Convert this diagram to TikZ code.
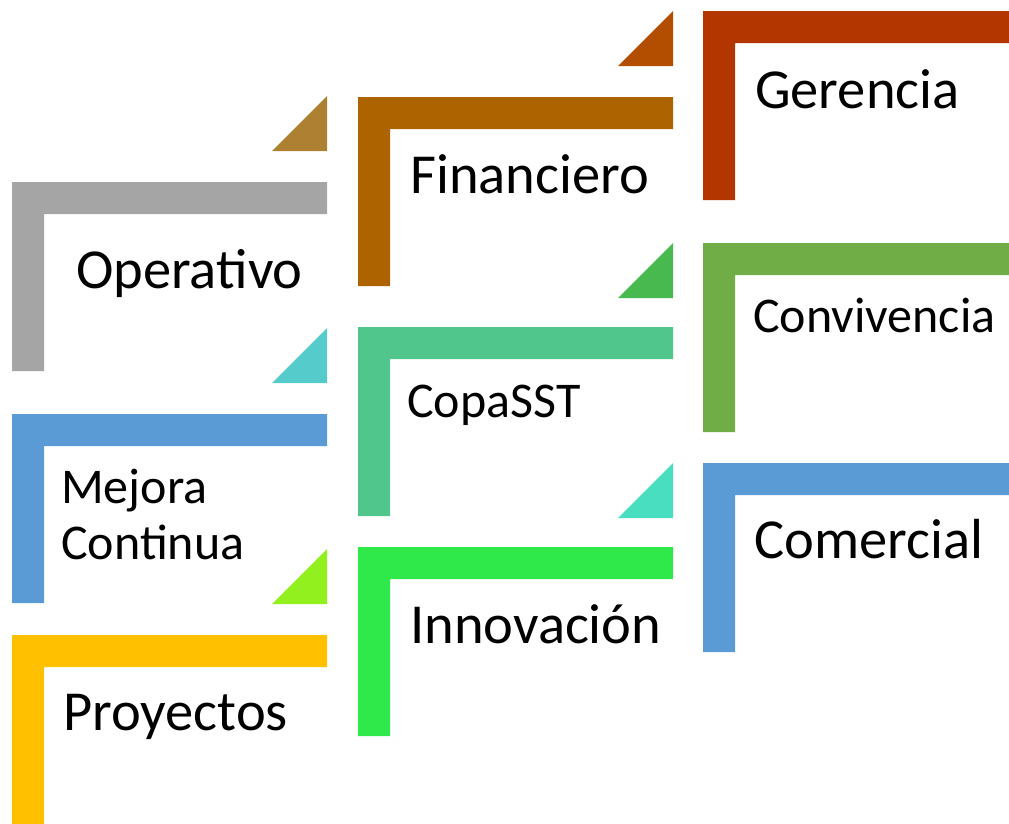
\documentclass[tikz,border=0pt]{standalone}
\usepackage{fontspec}
\setmainfont{Carlito}
\usepackage{xcolor}

\definecolor{opgray}{HTML}{A5A5A5}
\definecolor{mejblue}{HTML}{5B9BD5}
\definecolor{proyellow}{HTML}{FFC000}
\definecolor{finbrown}{HTML}{AD6300}
\definecolor{copagreen}{HTML}{50C58C}
\definecolor{innogreen}{HTML}{2FE84A}
\definecolor{gerred}{HTML}{B33600}
\definecolor{convgreen}{HTML}{70AD47}
\definecolor{comblue}{HTML}{5B9BD5}
\definecolor{trigold}{HTML}{AD8131}
\definecolor{tricyan}{HTML}{56CBCB}
\definecolor{trilime}{HTML}{92F01E}
\definecolor{triorange}{HTML}{B34D00}
\definecolor{trigreen}{HTML}{47B94E}
\definecolor{triturq}{HTML}{49DEBF}

% L-shaped bracket: top-left x, top-left y, colour
\newcommand{\lbracket}[3]{%
  \fill[#3] (#1,#2) -- ++(315,0) -- ++(0,32) -- ++(-283,0) -- ++(0,157) -- ++(-32,0) -- cycle;}
% corner triangle: right x, bottom y, colour
\newcommand{\cornertri}[3]{%
  \fill[#3] (#1,#2) -- ++(-55,0) -- ++(55,-55) -- cycle;}

\begin{document}
\begin{tikzpicture}[x=1pt,y=-1pt,
    bigtxt/.style={anchor=base west, inner sep=0pt, font=\fontsize{56.5}{64}\selectfont},
    smalltxt/.style={anchor=base west, inner sep=0pt, font=\fontsize{50}{56}\selectfont}]
    \useasboundingbox (0,0) rectangle (1009,823);

    % brackets, column by column
    \foreach \bx/\by/\bc in {12/182/opgray, 12/414/mejblue, 12/635/proyellow,
                             358/97/finbrown, 358/327/copagreen, 358/547/innogreen,
                             703/11/gerred, 703/243/convgreen, 703/463/comblue}
        \lbracket{\bx}{\by}{\bc};

    % small triangles above the brackets
    \foreach \tx/\ty/\tc in {327/151/trigold, 327/383/tricyan, 327/604/trilime,
                             673/66/triorange, 673/298/trigreen, 673/518/triturq}
        \cornertri{\tx}{\ty}{\tc};

    % labels
    \node[bigtxt] (operativo) at (76,288) {Operativo};
    \node[smalltxt] (mejora) at (61,503) {Mejora};
    \node[smalltxt] (continua) at (61,559) {Continua};
    \node[bigtxt] (proyectos) at (63,730) {Proyectos};
    \node[bigtxt] (financiero) at (410,193) {Financiero};
    \node[smalltxt] (copasst) at (407,417) {CopaSST};
    \node[bigtxt] (innovacion) at (410,643) {Innovación};
    \node[bigtxt] (gerencia) at (755,108) {Gerencia};
    \node[smalltxt] (convivencia) at (753,332) {Convivencia};
    \node[bigtxt] (comercial) at (754,558) {Comercial};
\end{tikzpicture}
\end{document}
